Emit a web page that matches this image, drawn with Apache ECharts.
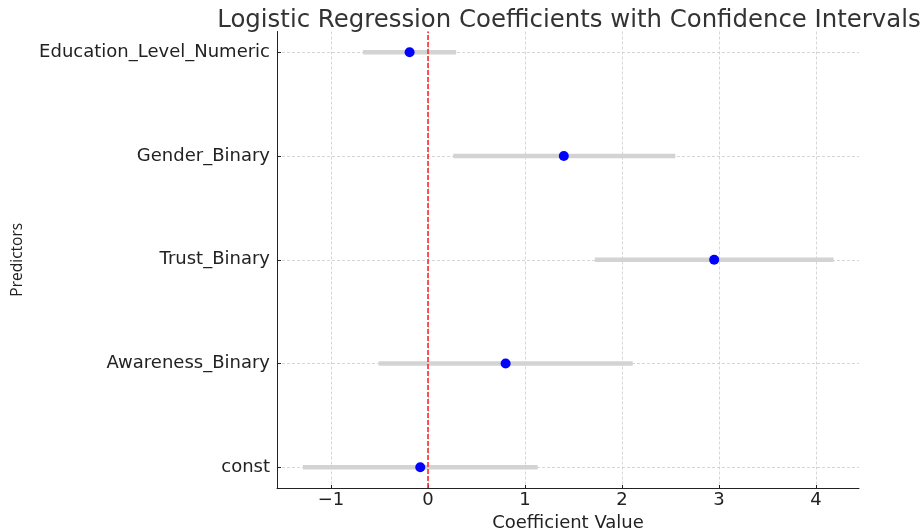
<!DOCTYPE html>
<html>
<head>
<meta charset="utf-8">
<script src="https://cdn.jsdelivr.net/npm/echarts@6/dist/echarts.min.js"></script>
<style>html,body{margin:0;padding:0;background:#fff}#c{width:923px;height:529px}</style>
</head>
<body>
<div id="c"></div>
<script>
const predictors = ['const', 'Awareness_Binary', 'Trust_Binary', 'Gender_Binary', 'Education_Level_Numeric'];
const coef = [-0.08, 0.80, 2.95, 1.40, -0.19];
const ciLow = [-1.29, -0.51, 1.72, 0.26, -0.67];
const ciHigh = [1.13, 2.11, 4.18, 2.55, 0.29];
const xTicks = [-1, 0, 1, 2, 3, 4];
const yTicks = [0, 1, 2, 3, 4];

const chart = echarts.init(document.getElementById('c'), null, {renderer: 'canvas'});
const font = 'DejaVu Sans';
const fmtMinus = v => (v < 0 ? '\u2212' + Math.abs(v) : String(v));

chart.setOption({
  animation: false,
  backgroundColor: '#fff',
  title: {
    text: 'Logistic Regression Coefficients with Confidence Intervals',
    left: 564, top: 4, textAlign: 'center',
    textStyle: {fontFamily: font, fontSize: 24.4, fontWeight: 'normal', color: '#333'}
  },
  grid: {left: 277, right: 64, top: 31.5, bottom: 41, containLabel: false, outerBoundsMode: 'none'},
  xAxis: {
    type: 'value', min: -1.557, max: 4.443,
    name: 'Coefficient Value', nameLocation: 'middle', nameGap: 23,
    nameTextStyle: {fontFamily: font, fontSize: 18, color: '#222'},
    axisLine: {show: true, onZero: false, lineStyle: {color: '#222', width: 1}},
    axisTick: {show: true, inside: true, length: 3, customValues: xTicks, lineStyle: {color: '#222'}},
    axisLabel: {customValues: xTicks, formatter: fmtMinus, fontFamily: font, fontSize: 18, color: '#222', margin: 3},
    splitLine: {show: true, lineStyle: {color: '#cccccc', type: [3, 2], width: 0.8}}
  },
  yAxis: {
    type: 'value', min: -0.2, max: 4.2,
    name: 'Predictors', nameLocation: 'middle', nameGap: 251, nameRotate: 90,
    nameTextStyle: {fontFamily: 'Open Sans', fontSize: 15.5, color: '#222'},
    axisLine: {show: true, onZero: false, lineStyle: {color: '#222', width: 1}},
    axisTick: {show: true, inside: true, length: 4, customValues: yTicks, lineStyle: {color: '#222'}},
    axisLabel: {customValues: yTicks, formatter: v => predictors[Math.round(v)] || '', fontFamily: font, fontSize: 18, color: '#222', margin: 7},
    splitLine: {show: true, lineStyle: {color: '#cccccc', type: [3, 2], width: 0.8}}
  },
  series: [
    {
      type: 'custom',
      z: 2,
      renderItem: function (params, api) {
        const y = api.value(0);
        const p1 = api.coord([api.value(1), y]);
        const p2 = api.coord([api.value(2), y]);
        return {type: 'line', shape: {x1: p1[0], y1: p1[1], x2: p2[0], y2: p2[1]},
          style: {stroke: '#d3d3d3', lineWidth: 4.5}};
      },
      encode: {x: [1, 2], y: 0},
      data: predictors.map((p, i) => [i, ciLow[i], ciHigh[i]])
    },
    {
      type: 'scatter',
      z: 4,
      symbol: 'circle', symbolSize: 10,
      itemStyle: {color: '#0000ff', opacity: 1},
      data: predictors.map((p, i) => [coef[i], i]),
      markLine: {
        silent: true, symbol: 'none', label: {show: false},
        lineStyle: {color: '#ff2a2a', type: [5, 2], width: 1.6, opacity: 1},
        data: [{xAxis: 0}]
      }
    }
  ]
});
</script>
</body>
</html>
